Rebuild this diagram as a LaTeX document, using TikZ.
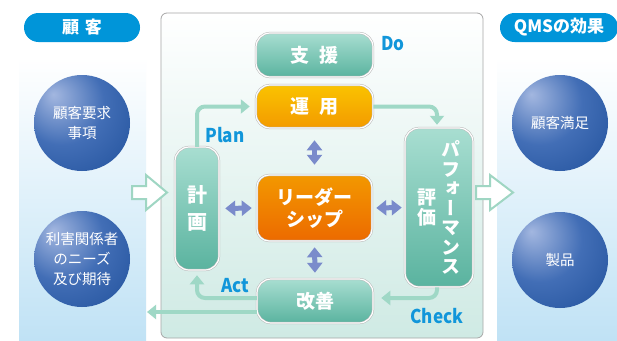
\documentclass[tikz,border=0pt]{standalone}
\usepackage{fontspec}
\setmainfont{Noto Sans CJK JP}
\newfontfamily\jpv{Noto Sans CJK JP}[RawFeature=+vert]
\usetikzlibrary{arrows.meta,calc}
\definecolor{hdrblue}{HTML}{0095D9}
\definecolor{lblblue}{HTML}{1196DA}
\definecolor{flowc}{HTML}{9FD8C6}
\definecolor{dblc}{HTML}{7A8BCB}
\definecolor{tealT}{HTML}{A8DED1}
\definecolor{tealB}{HTML}{5AB39F}
\definecolor{orgAT}{HTML}{FAC300}
\definecolor{orgAB}{HTML}{F39A00}
\definecolor{orgBT}{HTML}{F39800}
\definecolor{orgBB}{HTML}{EC6A00}
\definecolor{panelblue}{HTML}{C0E2F5}
\definecolor{panelmint}{HTML}{CFEAE4}
\definecolor{frame}{HTML}{A7A7A7}
\definecolor{hollowc}{HTML}{9FD6C3}
\definecolor{sphL}{HTML}{A3B7E0}
\definecolor{sphM}{HTML}{426EB6}
\definecolor{sphD}{HTML}{1A4B96}
\pgfdeclareradialshading{sphereshade}{\pgfpoint{-15bp}{15bp}}{color(0bp)=(sphL); color(22bp)=(sphM); color(50bp)=(sphD); color(75bp)=(sphD)}
\newcommand{\lbltext}[1]{\scalebox{0.9}[1]{#1}}
\begin{document}
\begin{tikzpicture}[x=1pt,y=-1pt,
  pill/.style={fill=hdrblue, rounded corners=14.5pt, minimum height=29pt, inner sep=0pt, text=white, font=\bfseries\fontsize{17}{20}\selectfont},
  sphere/.style={circle, minimum size=96pt, inner sep=0pt, shading=sphereshade, text=white, align=center, font=\fontsize{14.5}{20}\selectfont},
  boxbase/.style={rounded corners=14pt, shading=axis, draw=gray!55, double=white, double distance=1.2pt, line width=0.5pt, inner sep=0pt, text=white, font=\bfseries\fontsize{19}{22}\selectfont},
  tealbox/.style={boxbase, top color=tealT, bottom color=tealB},
  orgA/.style={boxbase, top color=orgAT, bottom color=orgAB},
  orgB/.style={boxbase, top color=orgBT, bottom color=orgBB, rounded corners=12pt},
  lbl/.style={text=lblblue, font=\bfseries\fontsize{19}{22}\selectfont, inner sep=0pt},
  flow/.style={draw=flowc, line width=4pt, rounded corners=8pt, -{Triangle[length=9pt,width=14pt]}},
  dbl/.style={draw=dblc, line width=5pt, {Triangle[length=10pt,width=15pt]}-{Triangle[length=10pt,width=15pt]}},
  hollow/.style={draw=hollowc, fill=white, line width=2pt, line join=miter}
]
\useasboundingbox (0,0) rectangle (617,340);
\fill[white] (0,0) rectangle (617,340);
% side panels
\shade[top color=white, bottom color=panelblue] (19,57) rectangle (146,340);
\shade[top color=white, bottom color=panelblue] (497,57) rectangle (617,340);
% headers
\node[pill, minimum width=116pt] (hdrL) at (82,27.5) {顧\hspace{0.35em}客};
\node[pill, minimum width=118pt] (hdrR) at (559,27.5) {QMSの効果};
% spheres
\node[sphere] (c1) at (82,123) {顧客要求\\事項};
\node[sphere] (c2) at (82,259) {利害関係者\\のニーズ\\及び期待};
\node[sphere] (c3) at (560,123) {顧客満足};
\node[sphere] (c4) at (560,260) {製品};
% main panel
\shadedraw[top color=white, bottom color=panelmint, draw=frame, line width=0.8pt, rounded corners=6pt] (161,13) rectangle (483,338);
% boxes
\node[tealbox, minimum width=117pt, minimum height=44pt] (shien) at (314.5,55) {支\hspace{0.5em}援};
\node[orgA, minimum width=117pt, minimum height=43pt] (unyo) at (314.5,106.5) {運\hspace{0.5em}用};
\node[orgB, minimum width=115pt, minimum height=66pt, align=center] (lead) at (314.5,208) {リーダー\\シップ};
\node[tealbox, minimum width=116pt, minimum height=44pt] (kaizen) at (315,301) {改善};
\node[tealbox, minimum width=44pt, minimum height=123pt, align=center, font=\bfseries\fontsize{20}{27}\selectfont] (keikaku) at (197,208.5) {計\\画};
\node[tealbox, minimum width=68pt, minimum height=159pt, font=\bfseries\fontsize{19}{19.5}\selectfont] (perf) at (439,207.5)
  {\jpv\parbox[c]{22pt}{\centering 評\\価}\hspace{2pt}\parbox[c]{22pt}{\centering パ\\フ\\ォ\\ー\\マ\\ン\\ス}};
% labels
\node[lbl] (ldo) at (393,44) {\lbltext{Do}};
\node[lbl] (lplan) at (225,135) {\lbltext{Plan}};
\node[lbl] (lact) at (235,286) {\lbltext{Act}};
\node[lbl] (lcheck) at (437,316) {\lbltext{Check}};
% flow arrows
\coordinate (outL) at (147,312);
\draw[flow] (keikaku.north) |- ($(unyo.west)+(-6,0)$);
\draw[flow] (unyo.east) -| ($(perf.north)+(-2,-3)$);
\draw[flow] ($(perf.south)+(-2,0)$) |- ($(kaizen.east)+(8,-3)$);
\draw[flow] ($(kaizen.west)+(0,-3)$) -| ($(keikaku.south)+(0,5)$);
\draw[flow] ($(kaizen.west)+(0,11)$) -- (outL);
% double arrows
\draw[dbl, shorten <=12pt, shorten >=10pt] (unyo.south) -- (lead.north);
\draw[dbl, shorten <=6pt, shorten >=6pt] (lead.south) -- (kaizen.north);
\draw[dbl, shorten <=6pt, shorten >=5pt] (keikaku.east) -- (lead.west);
\draw[dbl, shorten <=4pt, shorten >=3pt] (lead.east) -- (perf.west);
% hollow arrows
\filldraw[hollow] (132,186) -- (146,186) -- (146,175) -- (167,192.5) -- (146,210) -- (146,199) -- (132,199) -- cycle;
\filldraw[hollow] (476,186) -- (490,186) -- (490,175) -- (513,192.5) -- (490,210) -- (490,199) -- (476,199) -- cycle;
\end{tikzpicture}
\end{document}
